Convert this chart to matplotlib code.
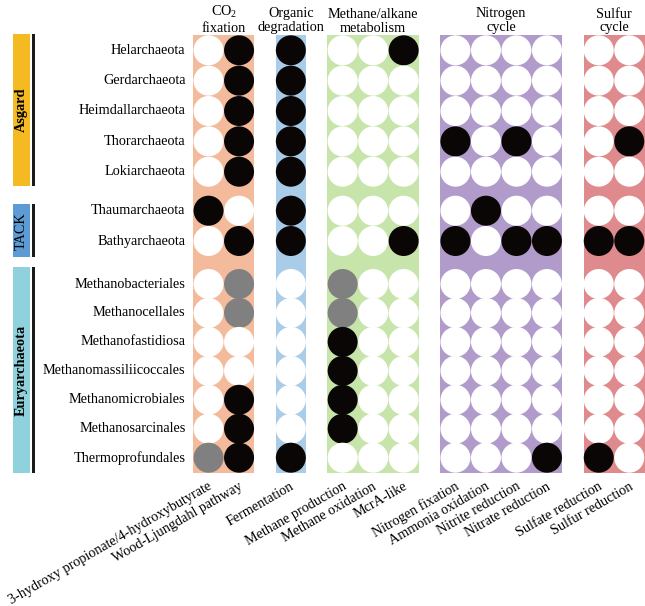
import matplotlib
matplotlib.use("Agg")
import matplotlib.pyplot as plt
from matplotlib.patches import Circle, Rectangle

plt.rcParams['font.family'] = ['Liberation Serif', 'DejaVu Serif']
plt.rcParams['mathtext.fontset'] = 'custom'
plt.rcParams['mathtext.rm'] = 'Liberation Serif'
plt.rcParams['mathtext.it'] = 'Liberation Serif:italic'

# ---------------- data ----------------
taxa = ["Helarchaeota", "Gerdarchaeota", "Heimdallarchaeota", "Thorarchaeota",
        "Lokiarchaeota", "Thaumarchaeota", "Bathyarchaeota",
        "Methanobacteriales", "Methanocellales", "Methanofastidiosa",
        "Methanomassiliicoccales", "Methanomicrobiales", "Methanosarcinales",
        "Thermoprofundales"]
phyla = ["Asgard", "TACK", "Euryarchaeota"]
phyla_sizes = [5, 2, 7]

pathway_groups = ["CO$_2$\nfixation", "Organic\ndegradation", "Methane/alkane\nmetabolism",
                  "Nitrogen\ncycle", "Sulfur\ncycle"]
pathway_group_sizes = [2, 1, 3, 4, 2]
pathways = ["3-hydroxy propionate/4-hydroxybutyrate", "Wood-Ljungdahl pathway",
            "Fermentation", "Methane production", "Methane oxidation", "McrA-like",
            "Nitrogen fixation", "Ammonia oxidation", "Nitrite reduction",
            "Nitrate reduction", "Sulfate reduction", "Sulfur reduction"]

# 0 = absent (white), 1 = present (black), 2 = partial (gray)
presence = [
    [0, 1, 1, 0, 0, 1, 0, 0, 0, 0, 0, 0],  # Helarchaeota
    [0, 1, 1, 0, 0, 0, 0, 0, 0, 0, 0, 0],  # Gerdarchaeota
    [0, 1, 1, 0, 0, 0, 0, 0, 0, 0, 0, 0],  # Heimdallarchaeota
    [0, 1, 1, 0, 0, 0, 1, 0, 1, 0, 0, 1],  # Thorarchaeota
    [0, 1, 1, 0, 0, 0, 0, 0, 0, 0, 0, 0],  # Lokiarchaeota
    [1, 0, 1, 0, 0, 0, 0, 1, 0, 0, 0, 0],  # Thaumarchaeota
    [0, 1, 1, 0, 0, 1, 1, 0, 1, 1, 1, 1],  # Bathyarchaeota
    [0, 2, 0, 2, 0, 0, 0, 0, 0, 0, 0, 0],  # Methanobacteriales
    [0, 2, 0, 2, 0, 0, 0, 0, 0, 0, 0, 0],  # Methanocellales
    [0, 0, 0, 1, 0, 0, 0, 0, 0, 0, 0, 0],  # Methanofastidiosa
    [0, 0, 0, 1, 0, 0, 0, 0, 0, 0, 0, 0],  # Methanomassiliicoccales
    [0, 1, 0, 1, 0, 0, 0, 0, 0, 0, 0, 0],  # Methanomicrobiales
    [0, 1, 0, 1, 0, 0, 0, 0, 0, 0, 0, 0],  # Methanosarcinales
    [2, 1, 1, 0, 0, 0, 0, 0, 0, 1, 1, 0],  # Thermoprofundales
]

# ---------------- style / layout ----------------
group_colors = ["#F3BA9B", "#A9CCE9", "#C7E5AA", "#B19BCB", "#DF8A8C"]
phyla_colors = ["#F5B922", "#5C9BD3", "#8FD2DD"]
state_colors = {0: "white", 1: "#0a0606", 2: "#808080"}
FS = 10.3

W, H = 645, 606
x0 = 193.3          # left edge of first group
col_pitch = 30.5
group_gap = 21.3
radius = 15.0
row_starts = [50.3, 210.7, 284.0]
row_pitches = [30.35, 30.3, 28.95]
bg_top, bg_bottom = 34.5, 472.7
phyla_spans = [(34.3, 185.8), (204.3, 257.3), (267.3, 472.7)]

fig = plt.figure(figsize=(W / 100, H / 100), dpi=100)
ax = fig.add_axes([0, 0, 1, 1])
ax.set_xlim(0, W)
ax.set_ylim(H, 0)
ax.axis("off")

# column positions
col_x = []
group_bounds = []
gx = x0
for n in pathway_group_sizes:
    group_bounds.append((gx, gx + n * col_pitch))
    for k in range(n):
        col_x.append(gx + (k + 0.5) * col_pitch)
    gx += n * col_pitch + group_gap

# row positions
row_y = []
for start, pitch, n in zip(row_starts, row_pitches, phyla_sizes):
    for k in range(n):
        row_y.append(start + k * pitch)

# group backgrounds and headers
for (a, b), c, name in zip(group_bounds, group_colors, pathway_groups):
    ax.add_patch(Rectangle((a, bg_top), b - a, bg_bottom - bg_top, facecolor=c,
                           edgecolor="none", zorder=1))
    ax.text((a + b) / 2, 34.5, name, ha="center", va="bottom", fontsize=FS,
            linespacing=1.1, zorder=3)

# circles
for i, y in enumerate(row_y):
    for j, x in enumerate(col_x):
        ax.add_patch(Circle((x, y), radius, facecolor=state_colors[presence[i][j]],
                            edgecolor="none", zorder=2))

# row labels
for name, y in zip(taxa, row_y):
    ax.text(185.5, y, name, ha="right", va="center", fontsize=FS, zorder=3)

# phylum bars
for (t, b), c, name in zip(phyla_spans, phyla_colors, phyla):
    ax.add_patch(Rectangle((13.3, t), 16.4, b - t, facecolor=c, edgecolor="none", zorder=1))
    ax.add_patch(Rectangle((32.3, t), 2.4, b - t, facecolor="#1a1a1a", edgecolor="none", zorder=1))
    ax.text(21.5, (t + b) / 2, name, rotation=90, ha="center", va="center",
            fontsize=FS, fontweight="normal" if name == "TACK" else "bold", zorder=3)

# pathway labels
for name, x in zip(pathways, col_x):
    ax.text(x + 2.5, 485.5, name, rotation=30, rotation_mode="anchor",
            ha="right", va="center", fontsize=10.15, zorder=3)

fig.savefig("out.png", dpi=100)
